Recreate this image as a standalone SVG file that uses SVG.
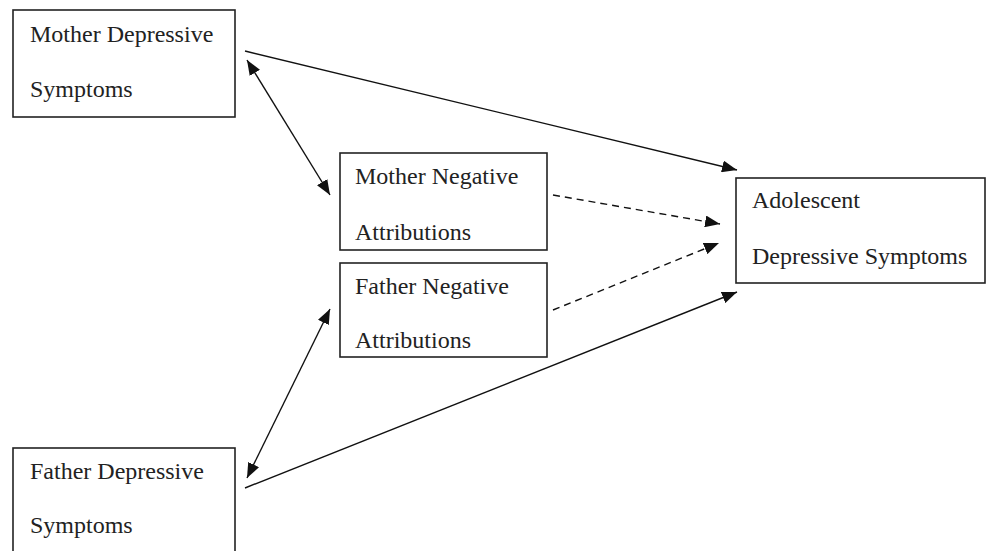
<svg xmlns="http://www.w3.org/2000/svg" width="987" height="551" viewBox="0 0 987 551">
<style>
.box{fill:#fff;stroke:#222;stroke-width:1.6}
.t{font-family:"Liberation Serif","Times New Roman",serif;font-size:24px;fill:#222}
.c{stroke:#111;stroke-width:1.4;fill:none}
.d{stroke-dasharray:7,5}
</style>
<defs>
<marker id="ah" markerUnits="userSpaceOnUse" markerWidth="16" markerHeight="12" refX="15" refY="6" orient="auto-start-reverse">
<path d="M0,0 L15,6 L0,12 Z" fill="#111"/>
</marker>
</defs>
<rect width="987" height="551" fill="#fff"/>
<g id="connectors">
<line class="c" x1="245" y1="51" x2="737" y2="170" marker-end="url(#ah)"/>
<line class="c" x1="247" y1="60" x2="330" y2="195" marker-start="url(#ah)" marker-end="url(#ah)"/>
<line class="c d" x1="553" y1="195" x2="720" y2="224" marker-end="url(#ah)"/>
<line class="c d" x1="553" y1="310" x2="719" y2="243" marker-end="url(#ah)"/>
<line class="c" x1="245" y1="488" x2="737" y2="292" marker-end="url(#ah)"/>
<line class="c" x1="247" y1="478" x2="330" y2="309" marker-start="url(#ah)" marker-end="url(#ah)"/>
</g>
<g id="mother-dep">
<rect class="box" x="13" y="10" width="222" height="107"/>
<text class="t" x="30" y="42">Mother Depressive</text>
<text class="t" x="30" y="97">Symptoms</text>
</g>
<g id="mother-neg">
<rect class="box" x="340" y="153" width="207" height="97"/>
<text class="t" x="355" y="184">Mother Negative</text>
<text class="t" x="355" y="240">Attributions</text>
</g>
<g id="father-neg">
<rect class="box" x="340" y="263" width="207" height="94"/>
<text class="t" x="355" y="294">Father Negative</text>
<text class="t" x="355" y="348">Attributions</text>
</g>
<g id="adolescent">
<rect class="box" x="736" y="178" width="249" height="105"/>
<text class="t" x="752" y="208">Adolescent</text>
<text class="t" x="752" y="264">Depressive Symptoms</text>
</g>
<g id="father-dep">
<rect class="box" x="13" y="448" width="222" height="110"/>
<text class="t" x="30" y="479">Father Depressive</text>
<text class="t" x="30" y="533">Symptoms</text>
</g>
</svg>
